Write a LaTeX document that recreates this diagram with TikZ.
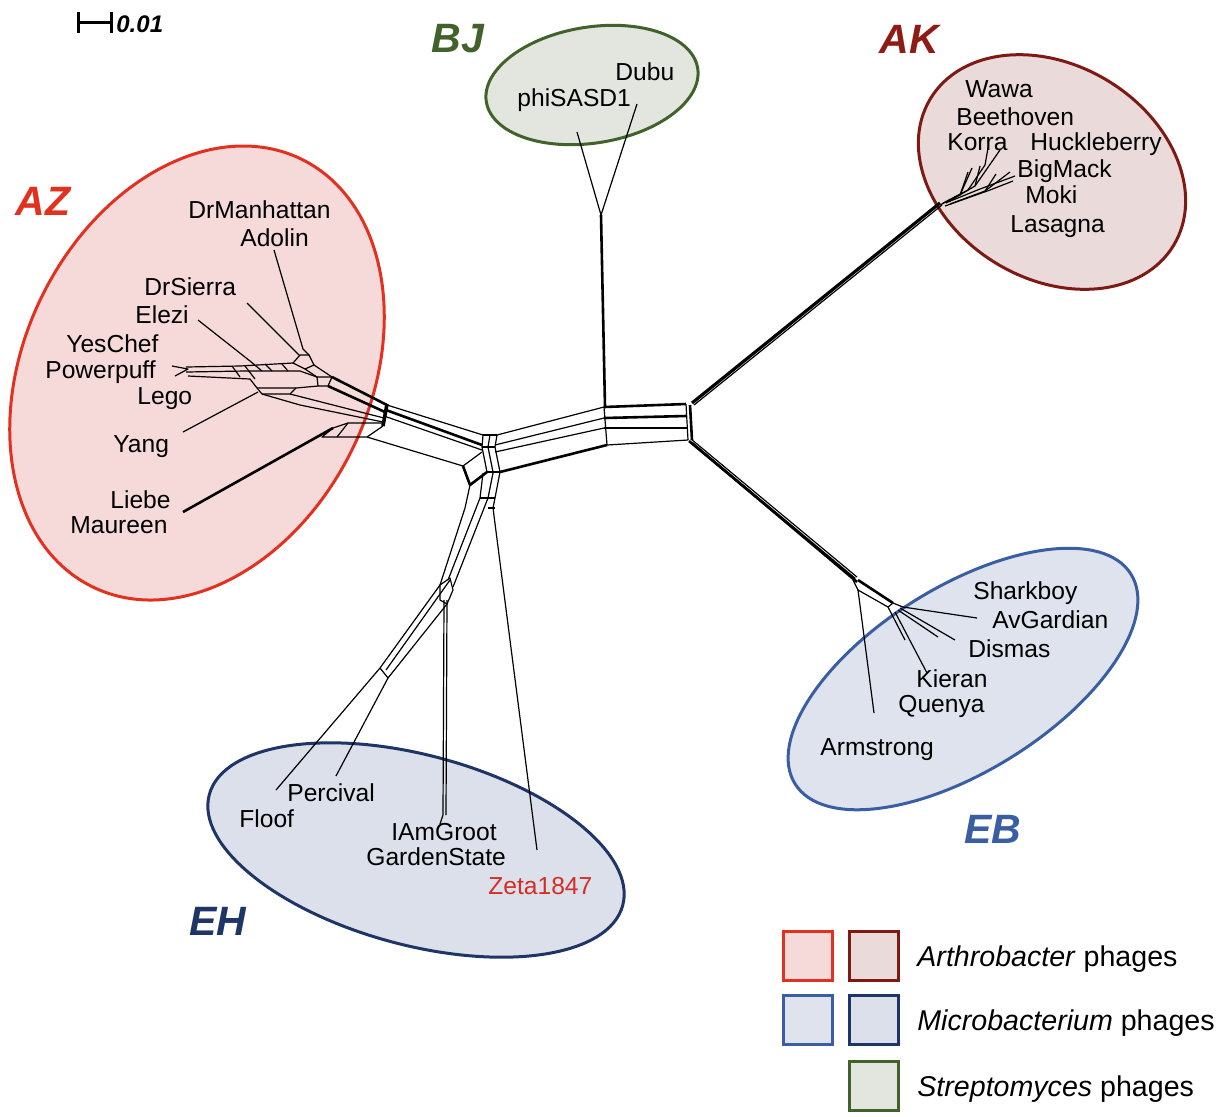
\documentclass[tikz,border=0pt]{standalone}
\usepackage{fontspec}
\setmainfont{Liberation Sans}
\definecolor{azred}{HTML}{E2321F}
\definecolor{azfill}{HTML}{F6D9D9}
\definecolor{akred}{HTML}{7E1A14}
\definecolor{aklab}{HTML}{8E1B16}
\definecolor{akfill}{HTML}{EBDADA}
\definecolor{bjgreen}{HTML}{41622A}
\definecolor{bjfill}{HTML}{E3E6DF}
\definecolor{ebblue}{HTML}{3A5EA3}
\definecolor{ebfill}{HTML}{DEE3ED}
\definecolor{ehnavy}{HTML}{1F3566}
\definecolor{ehfill}{HTML}{DCE0EA}
\definecolor{zetared}{HTML}{D42E24}
\begin{document}
\begin{tikzpicture}[x=0.5pt,y=-0.5pt,
  net/.style={line width=0.6pt, line join=round},
  netb/.style={line width=1.3pt, line join=round},
  lbl/.style={anchor=base west, inner sep=0pt, font=\fontsize{12.3}{14}\selectfont},
  grp/.style={anchor=base west, inner sep=0pt, font=\fontsize{20.5}{24}\selectfont\bfseries\itshape},
  leg/.style={anchor=base west, inner sep=0pt, font=\fontsize{14.3}{17}\selectfont},
  sqbox/.style={draw, line width=1.5pt, minimum size=24.5pt, inner sep=0pt},
  ell/.style={line width=1.5pt}]
\useasboundingbox (0,0) rectangle (1226,1116);

% ---------------- group ellipses ----------------
\draw[ell, draw=azred, fill=azfill, rotate around={-26:(197,373)}] (197,373) ellipse [x radius=173, y radius=238];
\draw[ell, draw=akred, fill=akfill, rotate around={-31:(1052,172)}] (1052,172) ellipse [x radius=142, y radius=107];
\draw[ell, draw=bjgreen, fill=bjfill, rotate around={9:(592,85)}] (592,85) ellipse [x radius=107, y radius=58];
\draw[ell, draw=ebblue, fill=ebfill, rotate around={32:(963,679)}] (963,679) ellipse [x radius=198, y radius=92];
\draw[ell, draw=ehnavy, fill=ehfill, rotate around={-15:(416,850)}] (416,850) ellipse [x radius=214, y radius=95];

% ---------------- scale bar ----------------
\draw[line width=1.5pt] (78,22) -- (111,22);
\draw[line width=1.5pt] (78,12) -- (78,33);
\draw[line width=1.5pt] (111,12) -- (111,33);
\node[anchor=base west, inner sep=0pt, font=\fontsize{12}{14}\selectfont\bfseries\itshape] (scale) at (116,32) {0.01};

% ---------------- AZ part of network ----------------
\draw[net] (274,250) -- (303,349) -- (309,355);
\draw[net] (247,303) -- (300,356);
\draw[net] (198,320) -- (250,361) -- (262,371);
\draw[net] (172,366) -- (188,369) -- (175,376);
\draw[net] (186,367) -- (240,366) -- (293,363);
\draw[net] (186,372) -- (245,371) -- (300,371) -- (317,377);
\draw[net] (188,376) -- (250,379) -- (257,388);
\draw[net] (232,366) -- (240,377);
\draw[net] (245,366) -- (255,379);
\draw[net] (265,364) -- (272,371);
\draw[net] (282,364) -- (288,371);
\draw[net] (293,363) -- (300,355) -- (309,355) -- (314,365) -- (305,369) -- cycle;
\draw[net] (305,369) -- (317,377);
\draw[net] (317,377) -- (332,377) -- (328,386) -- (318,386) -- cycle;
\draw[net] (314,365) -- (332,377);
\draw[netb] (332,377) -- (387,405);
\draw[netb] (328,386) -- (385,412);
\draw[net] (257,388) -- (296,388) -- (318,386);
\draw[net] (257,388) -- (262,394) -- (290,394) -- (296,388);
\draw[net] (290,394) -- (384,418);
\draw[net] (262,394) -- (300,405) -- (383,422);
\draw[net] (183,432) -- (258,392);
\draw[netb] (183,512) -- (333,428);
\draw[net] (333,428) -- (348,423) -- (383,423);
\draw[net] (333,428) -- (322,437) -- (367,437) -- (383,426);
\draw[net] (348,423) -- (337,437);
\draw[net] (367,437) -- (463,466);
\draw[line width=1.8pt] (387,404) -- (383,426);

% ---------------- central part ----------------
\draw[net] (387,405) -- (483,435);
\draw[netb] (386,410) -- (482,445);
\draw[net] (384,416) -- (482,450);
\draw[net] (463,466) -- (482,452);
\draw[netb] (463,466) -- (470,485) -- (487,472);
\draw[net] (483,435) -- (482,447) -- (487,472);
\draw[net] (490,435) -- (488,447) -- (493,472);
\draw[net] (497,435) -- (495,447) -- (500,472);
\draw[net] (483,435) -- (497,435);
\draw[netb] (482,447) -- (495,447);
\draw[netb] (487,472) -- (500,472);
\draw[net] (497,435) -- (604,407);
\draw[net] (495,445) -- (604,418);
\draw[net] (495,452) -- (604,428);
\draw[netb] (500,472) -- (607,445);
\draw[netb] (604,407) -- (686,404);
\draw[netb] (604,418) -- (686,416);
\draw[net] (604,428) -- (687,428);
\draw[net] (607,445) -- (688,440);
\draw[net] (604,407) -- (607,445);
\draw[net] (686,404) -- (688,440);
\draw[netb] (690,405) -- (692,440);

% ---------------- BJ ----------------
\draw[netb] (605,407) -- (601,215);
\draw[net] (601,215) -- (577,132);
\draw[net] (601,215) -- (637,104);

% ---------------- AK ----------------
\draw[line width=1.6pt] (692,403) -- (940,203);
\draw[net] (694,405) -- (942,205);
\draw[net] (940,205) -- (960,195) -- (972,168);
\draw[net] (943,203) -- (968,190) -- (985,165) -- (988,148);
\draw[net] (946,203) -- (975,186) -- (1000,150);
\draw[net] (948,202) -- (980,189) -- (1015,176);
\draw[net] (950,204) -- (985,191) -- (1010,172);
\draw[net] (945,206) -- (990,190) -- (1013,181);
\draw[net] (960,195) -- (968,172);
\draw[net] (975,186) -- (980,166);
\draw[net] (985,191) -- (996,174);

% ---------------- EB ----------------
\draw[netb] (689,441) -- (855,579);
\draw[net] (691,439) -- (857,577);
\draw[netb] (692,443) -- (857,582);
\draw[net] (853,580) -- (858,590);
\draw[net] (858,590) -- (874,713);
\draw[netb] (858,580) -- (893,603);
\draw[net] (858,590) -- (888,607);
\draw[net] (888,607) -- (893,603) -- (903,607);
\draw[net] (903,607) -- (977,618);
\draw[net] (900,608) -- (955,640);
\draw[net] (898,610) -- (938,637);
\draw[net] (895,612) -- (927,673);
\draw[net] (888,607) -- (905,640);

% ---------------- EH ----------------
\draw[net] (470,485) -- (465,508) -- (440,585);
\draw[net] (483,473) -- (480,498) -- (448,580);
\draw[net] (493,473) -- (488,498) -- (453,587);
\draw[net] (500,472) -- (495,498) -- (493,508);
\draw[net] (480,498) -- (495,498);
\draw[net] (488,508) -- (495,508);
\draw[net] (493,508) -- (537,850);
\draw[net] (440,585) -- (450,578) -- (453,590) -- (447,604) -- (440,600) -- cycle;
\draw[net] (444,600) -- (443,815) -- (440,824);
\draw[net] (447,600) -- (446,815);
\draw[net] (440,585) -- (380,668) -- (276,790);
\draw[net] (450,580) -- (386,670);
\draw[net] (447,604) -- (388,678) -- (336,776);
\draw[net] (380,668) -- (388,678);

% ---------------- leaf labels ----------------
\node[lbl] (drmanhattan) at (188,218) {DrManhattan};
\node[lbl] (adolin) at (240,246) {Adolin};
\node[lbl] (drsierra) at (144,295) {DrSierra};
\node[lbl] (elezi) at (135,323) {Elezi};
\node[lbl] (yeschef) at (66,352) {YesChef};
\node[lbl] (powerpuff) at (45,378) {Powerpuff};
\node[lbl] (lego) at (137,404) {Lego};
\node[lbl] (yang) at (113,452) {Yang};
\node[lbl] (liebe) at (110,508) {Liebe};
\node[lbl] (maureen) at (70,533) {Maureen};
\node[lbl] (dubu) at (615,80) {Dubu};
\node[lbl] (phisasd) at (517,106) {phiSASD1};
\node[lbl] (wawa) at (965,97) {Wawa};
\node[lbl] (beethoven) at (956,125) {Beethoven};
\node[lbl] (korra) at (947,150) {Korra};
\node[lbl] (huckleberry) at (1030,150) {Huckleberry};
\node[lbl] (bigmack) at (1017,177) {BigMack};
\node[lbl] (moki) at (1025,203) {Moki};
\node[lbl] (lasagna) at (1010,232) {Lasagna};
\node[lbl] (sharkboy) at (973,599) {Sharkboy};
\node[lbl] (avgardian) at (992,628) {AvGardian};
\node[lbl] (dismas) at (968,657) {Dismas};
\node[lbl] (kieran) at (916,687) {Kieran};
\node[lbl] (quenya) at (898,712) {Quenya};
\node[lbl] (armstrong) at (820,755) {Armstrong};
\node[lbl] (percival) at (287,801) {Percival};
\node[lbl] (floof) at (239,827) {Floof};
\node[lbl] (iamgroot) at (391,840) {IAmGroot};
\node[lbl] (gardenstate) at (366,865) {GardenState};
\node[lbl, text=zetared] (zeta) at (488,894) {Zeta1847};

% ---------------- group labels ----------------
\node[grp, text=azred] (az) at (15,215) {AZ};
\node[grp, text=bjgreen] (bj) at (431,52) {BJ};
\node[grp, text=aklab] (ak) at (879,53) {AK};
\node[grp, text=ebblue] (eb) at (964,843) {EB};
\node[grp, text=ehnavy] (eh) at (189,935) {EH};

% ---------------- legend ----------------
\node[sqbox, draw=azred, fill=azfill] (sqa1) at (808,956) {};
\node[sqbox, draw=akred, fill=akfill] (sqa2) at (874,956) {};
\node[sqbox, draw=ebblue, fill=ebfill] (sqm1) at (808,1020) {};
\node[sqbox, draw=ehnavy, fill=ehfill] (sqm2) at (874,1020) {};
\node[sqbox, draw=bjgreen, fill=bjfill] (sqs) at (874,1086) {};
\node[leg] (lega) at (917,966) {\textit{Arthrobacter} phages};
\node[leg] (legm) at (917,1030) {\textit{Microbacterium} phages};
\node[leg] (legs) at (917,1096) {\textit{Streptomyces} phages};
\end{tikzpicture}
\end{document}
